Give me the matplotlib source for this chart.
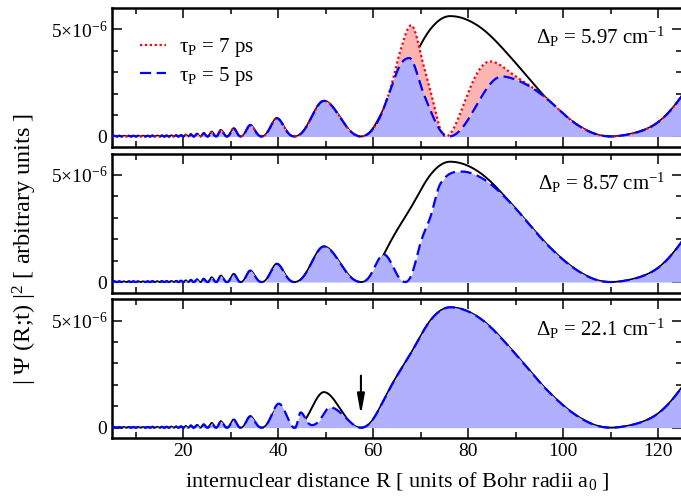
import numpy as np
import matplotlib
matplotlib.use('Agg')
import matplotlib.pyplot as plt
from matplotlib.ticker import FixedLocator, MultipleLocator, FixedFormatter

plt.rcParams['font.family'] = ['Liberation Serif', 'DejaVu Serif']
plt.rcParams['mathtext.fontset'] = 'custom'
plt.rcParams['mathtext.rm'] = 'Liberation Serif'
plt.rcParams['mathtext.it'] = 'Liberation Serif:italic'
plt.rcParams['mathtext.bf'] = 'Liberation Serif:bold'

# extrema (nodes / maxima), R in Bohr, |psi|^2 in 1e-6
osc_R = [5.0, 5.5, 6.0, 6.5, 7.0, 7.5, 8.0, 8.5, 9.0, 9.5, 10.0, 10.5, 11.0, 11.5,
         12.0, 12.5, 13.0, 13.5, 14.0, 14.5, 15.0, 15.5, 16.0, 16.5, 17.0, 17.5,
         18.0, 18.5, 19.0, 19.5, 20.0, 20.5, 21.05, 21.6, 22.2, 22.9, 23.6, 24.3,
         25.1, 26.0, 26.9, 27.9, 29.2, 30.6, 32.1, 34.1, 36.5]
osc_val = [0, 0.03, 0, 0.03, 0, 0.03, 0, 0.03, 0, 0.03, 0, 0.03, 0, 0.03,
           0, 0.03, 0, 0.04, 0, 0.04, 0, 0.04, 0, 0.04, 0, 0.05,
           0, 0.05, 0, 0.06, 0, 0.08, 0, 0.10, 0, 0.12, 0, 0.15,
           0, 0.22, 0, 0.30, 0, 0.38, 0, 0.53, 0]

mid_R = [39.7, 43.4, 49.6, 57.4]
mid_val = [0.85, 0, 1.66, 0]

tail_R = [96.6, 103.6, 110.0, 119.7, 125.0]
tail_val = [1.75, 0.45, 0, 0.62, 1.9]

black_R = osc_R + mid_R + [62.2, 68.5, 72.0, 76.2, 82.5, 89.5] + tail_R
black_val = osc_val + mid_val + [1.29, 3.7, 5.0, 5.62, 5.1, 3.55] + tail_val

# panel 1 : Delta = 5.97
red1_R = osc_R + mid_R + [61.5, 63.3, 65.7, 68.0, 70.6, 72.7, 75.3, 84.6, 90.0] + tail_R
red1_val = osc_val + mid_val + [0.95, 2.0, 4.0, 5.19, 3.3, 1.54, 0, 3.5, 2.8] + tail_val
blue1_R = osc_R + mid_R + [61.5, 63.3, 65.7, 67.6, 70.6, 72.0, 76.0, 87.1, 90.0] + tail_R
blue1_val = osc_val + mid_val + [0.95, 2.0, 3.35, 3.66, 2.0, 1.23, 0, 2.8, 2.65] + tail_val

# panel 2 : Delta = 8.57
blue2_R = osc_R + mid_R + [62.2, 66.7, 69.9, 72.0, 74.1, 78.7, 82.5, 89.5] + tail_R
blue2_val = osc_val + mid_val + [1.29, 0, 1.79, 3.02, 4.58, 5.16, 4.9, 3.55] + tail_val

# panel 3 : Delta = 22.1
blue3_R = osc_R + [40.1, 43.4, 44.7, 47.1, 50.9, 54.5, 57.4,
                   62.2, 68.5, 72.0, 76.2, 82.5, 89.5] + tail_R
blue3_val = osc_val + [1.12, 0, 0.71, 0.12, 0.95, 0.4, 0,
                       1.29, 3.7, 5.0, 5.62, 5.1, 3.55] + tail_val

deltas = ['5.97', '8.57', '22.1']
legend_labels = ['τ$_{\\mathrm{P}}$ = 7 ps', 'τ$_{\\mathrm{P}}$ = 5 ps']


def hermite(xk, yk, x):
    # cubic Hermite through the read points, flat at local extrema
    xk = np.asarray(xk, float)
    yk = np.asarray(yk, float)
    h = np.diff(xk)
    delta = np.diff(yk) / h
    d = np.zeros_like(yk)
    for k in range(1, len(xk) - 1):
        if delta[k - 1] * delta[k] > 0:
            dk = (h[k] * delta[k - 1] + h[k - 1] * delta[k]) / (h[k - 1] + h[k])
            lim = 3 * min(abs(delta[k - 1]), abs(delta[k]))
            d[k] = np.sign(dk) * min(abs(dk), lim)
    d[-1] = delta[-1]
    i = np.clip(np.searchsorted(xk, x) - 1, 0, len(h) - 1)
    t = (x - xk[i]) / h[i]
    h00 = 2 * t**3 - 3 * t**2 + 1
    h10 = t**3 - 2 * t**2 + t
    h01 = -2 * t**3 + 3 * t**2
    h11 = t**3 - t**2
    return h00 * yk[i] + h10 * h[i] * d[i] + h01 * yk[i + 1] + h11 * h[i] * d[i + 1]


def density(xk, vals, x):
    # smooth through the read extrema in amplitude space, then square
    amp = []
    s = 1.0
    for v in vals:
        if v == 0:
            amp.append(0.0)
            s = -s
        else:
            amp.append(s * np.sqrt(v))
    return hermite(xk, amp, x) ** 2 * 1e-6


R = np.linspace(5, 125, 5000)
black = density(black_R, black_val, R)
red1 = density(red1_R, red1_val, R)
blues = [density(blue1_R, blue1_val, R),
         density(blue2_R, blue2_val, R),
         density(blue3_R, blue3_val, R)]

fig = plt.figure(figsize=(6.81, 4.97), dpi=100)
bottoms = [0.704, 0.411, 0.118]
axes = [fig.add_axes([0.1645, b, 0.837, 0.28]) for b in bottoms]

blue_fill = '#B0B0FF'
red_fill = '#FFB4B4'

for n, ax in enumerate(axes):
    ax.plot(R, black, color='black', lw=1.4, zorder=1)
    if n == 0:
        ax.fill_between(R, 0, red1, color=red_fill, lw=0, zorder=1.5)
    ax.fill_between(R, 0, blues[n], color=blue_fill, lw=0, zorder=1.6)
    if n == 0:
        ax.plot(R, red1, color='red', lw=1.6, ls=(0, (1, 1.2)), zorder=3,
                label=legend_labels[0])
    ax.plot(R, blues[n], color='blue', lw=1.6, ls=(0, (5, 2.5)), zorder=4,
            label=legend_labels[1])

    ax.set_xlim(5, 125)
    ax.set_ylim(-0.5e-6, 6e-6)
    ax.xaxis.set_major_locator(MultipleLocator(20))
    ax.xaxis.set_minor_locator(MultipleLocator(10))
    ax.yaxis.set_major_locator(FixedLocator([0, 5e-6]))
    ax.yaxis.set_major_formatter(FixedFormatter(['0', '5×10$^{-6}$']))
    ax.yaxis.set_minor_locator(FixedLocator([1e-6, 2e-6, 3e-6, 4e-6]))
    ax.tick_params(which='both', direction='in', top=True, right=True,
                   labelsize=14, width=1.1)
    ax.tick_params(which='major', length=7.5)
    ax.tick_params(which='minor', length=4.5)
    for sp in ax.spines.values():
        sp.set_linewidth(1.8)
    if n < 2:
        ax.tick_params(labelbottom=False)
    ax.text(0.97, 0.74, 'Δ$_{\\mathrm{P}}$ = ' + deltas[n] + ' cm$^{-1}$',
            transform=ax.transAxes, ha='right', va='baseline', fontsize=15)

axes[0].legend(loc='upper left', bbox_to_anchor=(0.03, 0.87), frameon=False,
               fontsize=15, handlelength=1.25, handletextpad=0.65,
               labelspacing=0.25, borderpad=0)

axes[2].annotate('', xy=(57.4, 0.47e-6), xytext=(57.4, 2.56e-6),
                 arrowprops=dict(arrowstyle='-|>,head_length=1.2,head_width=0.22',
                                 color='black', lw=1.5))
axes[2].set_xlabel('internuclear distance R [ units of Bohr radii a$_{0}$ ]',
                   fontsize=16, labelpad=7)
fig.text(0.037, 0.5, '| Ψ (R;t) |$^{2}$ [ arbitrary units ]', rotation=90,
         ha='center', va='center', fontsize=17.5)

fig.savefig('out.png', dpi=100)
